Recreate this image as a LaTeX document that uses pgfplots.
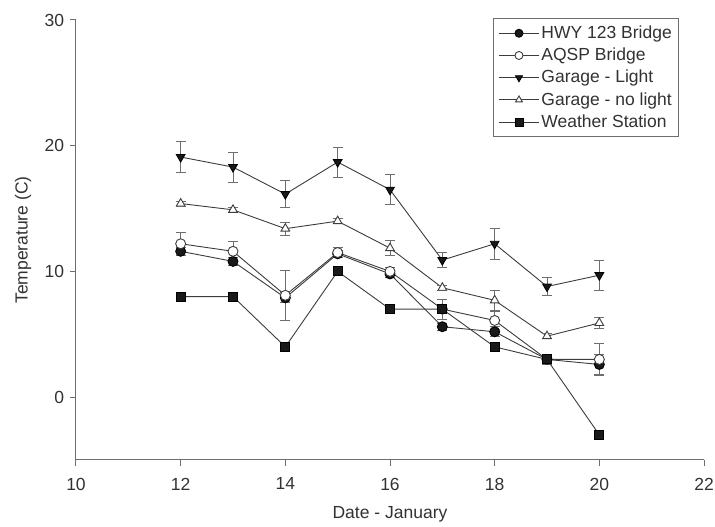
\documentclass[border=0pt]{standalone}
\usepackage{fontspec}
\setmainfont{Liberation Sans}
\usepackage{pgfplots}
\pgfplotsset{compat=1.18}
\definecolor{ln}{RGB}{60,60,60}
\definecolor{ax}{RGB}{110,110,110}
\definecolor{tx}{RGB}{50,50,50}
\begin{document}
\fontsize{17}{20}\selectfont
\begin{tikzpicture}
\begin{axis}[
  scale only axis, width=628pt, height=440pt,
  xmin=10, xmax=22, ymin=-5, ymax=30,
  xtick={10,12,...,22}, ytick={0,10,20,30},
  axis x line*=bottom, axis y line*=left,
  axis line style={ax, line width=1pt, -},
  tick style={ax, line width=1pt},
  tick align=outside, major tick length=6pt,
  /pgf/number format/assume math mode=true,
  ticklabel style={font=\fontsize{17.5}{20}\selectfont, text=tx},
  xticklabel style={yshift=-6pt},
  xlabel={Date - January}, ylabel={Temperature (C)},
  label style={font=\fontsize{17.5}{20}\selectfont, text=tx},
  xlabel style={yshift=-5pt},
  ylabel style={yshift=2pt},
  legend style={at={(rel axis cs:0.9605,1.004)}, anchor=north east, draw=ax, line width=0.8pt,
     font=\fontsize{17.5}{20}\selectfont, text=tx, inner xsep=5pt, inner ysep=5pt, row sep=3pt, cells={anchor=west}},
  legend cell align=left,
  legend image code/.code={\draw[mark repeat=2,mark phase=2,mark size=4pt] plot coordinates {(0pt,0pt) (20pt,0pt) (40pt,0pt)};},
  error bars/error bar style={ax, line width=0.9pt},
  error bars/error mark options={rotate=90, mark size=5pt, ax, line width=0.9pt},
  clip=false,
]
\addplot[line width=0.9pt, draw=ln, mark size=5pt, mark=*, mark options={fill=black!90, draw=black}, error bars/.cd, y dir=both, y explicit]
 coordinates {(12,11.6) +- (0,0.3) (13,10.8) +- (0,0.3) (14,7.9) +- (0,0.4) (15,11.4) +- (0,0.3) (16,9.8) +- (0,0.3) (17,5.6) +- (0,0.3) (18,5.2) +- (0,0.4) (19,3.0) +- (0,0.3) (20,2.6) +- (0,0.8)};
\addlegendentry{HWY 123 Bridge}
\addplot[line width=0.9pt, draw=ln, mark size=5pt, mark=*, mark options={fill=white, draw=ln}, error bars/.cd, y dir=both, y explicit]
 coordinates {(12,12.2) +- (0,0.9) (13,11.6) +- (0,0.8) (14,8.1) +- (0,2.0) (15,11.5) +- (0,0.4) (16,10.0) +- (0,0.3) (17,7.0) +- (0,0.8) (18,6.1) +- (0,0.7) (19,3.0) +- (0,0.4) (20,3.0) +- (0,1.3)};
\addlegendentry{AQSP Bridge}
\addplot[line width=0.9pt, draw=ln, mark size=5pt, mark=triangle*, mark options={fill=black!90, draw=black, rotate=180}, error bars/.cd, y dir=both, y explicit]
 coordinates {(12,19.1) +- (0,1.25) (13,18.3) +- (0,1.2) (14,16.15) +- (0,1.1) (15,18.7) +- (0,1.2) (16,16.5) +- (0,1.2) (17,10.9) +- (0,0.6) (18,12.2) +- (0,1.25) (19,8.8) +- (0,0.75) (20,9.7) +- (0,1.2)};
\addlegendentry{Garage - Light}
\addplot[line width=0.9pt, draw=ln, mark size=5pt, mark=triangle*, mark options={fill=white, draw=ln}, error bars/.cd, y dir=both, y explicit]
 coordinates {(12,15.4) +- (0,0.2) (13,14.9) +- (0,0.2) (14,13.4) +- (0,0.5) (15,14.0) +- (0,0.2) (16,11.85) +- (0,0.6) (17,8.7) +- (0,0.2) (18,7.7) +- (0,0.8) (19,4.85) +- (0,0.2) (20,5.9) +- (0,0.4)};
\addlegendentry{Garage - no light}
\addplot[line width=0.9pt, draw=ln, mark size=4.5pt, mark=square*, mark options={fill=black!90, draw=black}]
 coordinates {(12,8) (13,8) (14,4) (15,10) (16,7) (17,7) (18,4) (19,3) (20,-3)};
\addlegendentry{Weather Station}
\coordinate (O) at (rel axis cs:0,0);
\end{axis}
\pgfresetboundingbox
\path (O) ++(-76pt,-67pt) rectangle ++(715pt,527pt);
\end{tikzpicture}
\end{document}
